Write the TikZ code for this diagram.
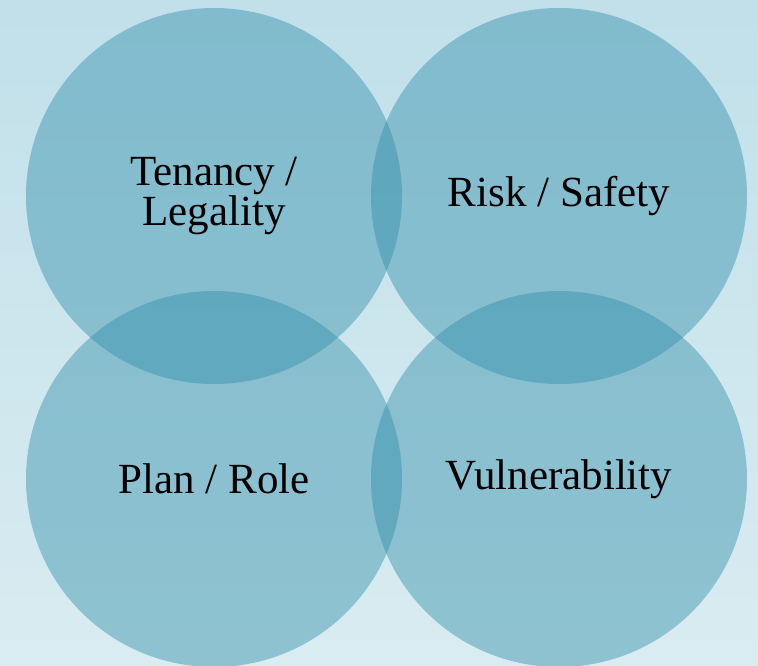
\documentclass[tikz,border=0pt]{standalone}
\usepackage{fontspec}
\setmainfont{Liberation Serif}
\usepackage{tikz}
\usetikzlibrary{positioning}
\definecolor{BgTop}{RGB}{193, 224, 234}
\definecolor{BgBottom}{RGB}{217, 236, 241}
\definecolor{PetalTeal}{RGB}{45, 140, 168}

\begin{document}
\begin{tikzpicture}[node distance=345pt]
        \tikzstyle{petal} = [circle, minimum size=376pt, inner sep=0pt, fill=PetalTeal, fill opacity=0.43, text opacity=1, text=black, align=center, font=\fontsize{43}{38}\selectfont]

        % Fundal
        \fill [top color=BgTop, bottom color=BgBottom] (0pt,0pt) rectangle (758pt,-666pt);
        \useasboundingbox (0pt,0pt) rectangle (758pt,-666pt);

        % Cercuri
        \node (tenancy) [petal] at (214pt,-196pt) {Tenancy /\\Legality};
        \node (risk) [petal, right of=tenancy] {Risk / Safety};
        \node (plan) [petal, below of=tenancy, yshift=62pt] {Plan / Role};
        \node (vuln) [petal, right of=plan] {Vulnerability};
    \end{tikzpicture}
\end{document}
